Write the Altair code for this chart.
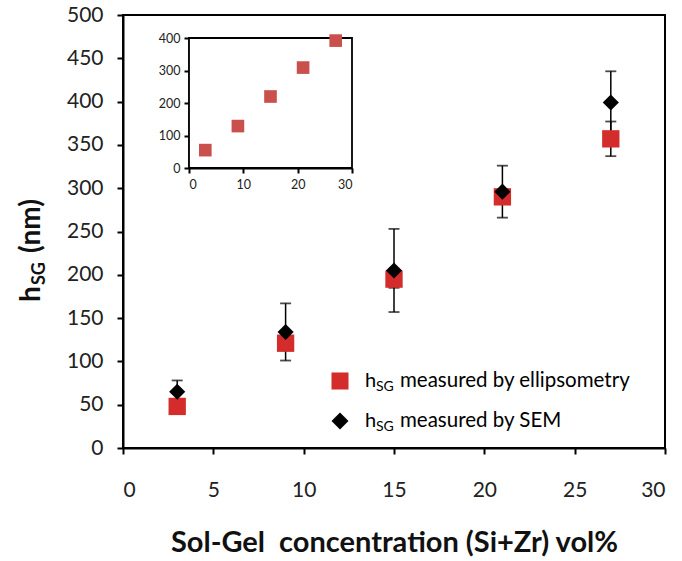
import altair as alt
import pandas as pd

# ---- data ----
conc = [3, 9, 15, 21, 27]
h_ellips = [48, 121, 195, 290, 357]
err_ellips = [5, 6, 10, 6, 20]
h_sem = [65, 134, 205, 296, 399]
err_sem = [13, 33, 48, 30, 36]
inset_conc = [3, 9, 15, 21, 27]
inset_h = [55, 129, 220, 309, 392]
legend_labels = ["measured by ellipsometry", "measured by SEM"]

FONT = "Lato"
W, H = 542, 433
RED = "#d42b2b"

main = pd.DataFrame({"x": conc, "ell": h_ellips, "eerr": err_ellips,
                     "semv": h_sem, "serr": err_sem})
main["ell_lo"] = main["ell"] - main["eerr"]
main["ell_hi"] = main["ell"] + main["eerr"]
main["sem_lo"] = main["semv"] - main["serr"]
main["sem_hi"] = main["semv"] + main["serr"]

xs = alt.Scale(domain=[0, 30], nice=False)
ys = alt.Scale(domain=[0, 500], nice=False)

X = alt.X("x:Q", scale=xs, title="Sol-Gel\u00a0 concentration (Si+Zr) vol%",
          axis=alt.Axis(values=[0, 5, 10, 15, 20, 25, 30], grid=False,
                        domainColor="black", domainWidth=2, tickColor="black",
                        tickWidth=2, tickSize=6, labelFontSize=21, labelPadding=25,
                        labelColor="#222", labelFont=FONT, titleFont=FONT,
                        titleFontSize=29, titleFontWeight="bold", titleColor="#111",
                        titlePadding=28))
Y = alt.Y("sem_lo:Q", scale=ys,
          axis=alt.Axis(values=list(range(0, 501, 50)), grid=False, domainColor="black",
                        domainWidth=2, tickColor="black", tickWidth=2, tickSize=6,
                        labelFontSize=21, labelPadding=14, labelColor="#222",
                        labelFont=FONT, title=None))

ebar_sem = alt.Chart(main).mark_rule(color="black", strokeWidth=1.5).encode(
    x=X, y=Y, y2="sem_hi:Q")
cap_sem_lo = alt.Chart(main).mark_tick(color="black", orient="horizontal", size=11, thickness=1.8).encode(
    x="x:Q", y="sem_lo:Q")
cap_sem_hi = alt.Chart(main).mark_tick(color="black", orient="horizontal", size=11, thickness=1.8).encode(
    x="x:Q", y="sem_hi:Q")
ebar_ell = alt.Chart(main).mark_rule(color="black", strokeWidth=1.5).encode(
    x="x:Q", y="ell_lo:Q", y2="ell_hi:Q")
cap_ell_lo = alt.Chart(main).mark_tick(color="black", orient="horizontal", size=11, thickness=1.8).encode(
    x="x:Q", y="ell_lo:Q")
cap_ell_hi = alt.Chart(main).mark_tick(color="black", orient="horizontal", size=11, thickness=1.8).encode(
    x="x:Q", y="ell_hi:Q")

squares = alt.Chart(main).mark_point(shape="square", filled=True, opacity=1,
                                     color=RED, size=300).encode(x="x:Q", y="ell:Q")
diamonds = alt.Chart(main).mark_point(shape="diamond", filled=True, opacity=1,
                                      color="black", size=260).encode(x="x:Q", y="semv:Q")

# ---- legend (manual, to allow subscripts) ----
one = pd.DataFrame({"a": [0]})
def legend_row(ypos, shape, color, rest):
    sym = alt.Chart(one).mark_point(filled=True, opacity=1, size=290, shape=shape,
                                    color=color).encode(x=alt.value(217), y=alt.value(ypos))
    h = alt.Chart(one).mark_text(align="left", baseline="middle", font=FONT, fontSize=20,
                                 color="black").encode(x=alt.value(242), y=alt.value(ypos),
                                                       text=alt.value("h"))
    sg = alt.Chart(one).mark_text(align="left", baseline="middle", font=FONT, fontSize=14,
                                  color="black").encode(x=alt.value(253), y=alt.value(ypos + 6),
                                                        text=alt.value("SG"))
    r = alt.Chart(one).mark_text(align="left", baseline="middle", font=FONT, fontSize=20.5,
                                 color="black").encode(x=alt.value(277), y=alt.value(ypos),
                                                       text=alt.value(rest))
    return [sym, h, sg, r]

legend = legend_row(366, "square", RED, legend_labels[0]) + \
         legend_row(406, "diamond", "black", legend_labels[1])

# ---- y axis title with subscript ----
ytitle = [
    alt.Chart(one).mark_text(angle=270, align="left", baseline="middle", font=FONT,
                             fontSize=28, fontWeight="bold", color="#111").encode(
        x=alt.value(-91), y=alt.value(287), text=alt.value("h")),
    alt.Chart(one).mark_text(angle=270, align="left", baseline="middle", font=FONT,
                             fontSize=18, fontWeight="bold", color="#111").encode(
        x=alt.value(-83), y=alt.value(270), text=alt.value("SG")),
    alt.Chart(one).mark_text(angle=270, align="left", baseline="middle", font=FONT,
                             fontSize=28, fontWeight="bold", color="#111").encode(
        x=alt.value(-91), y=alt.value(238), text=alt.value("(nm)")),
]

# ---- inset ----
ins = pd.DataFrame({"ix": inset_conc, "iy": inset_h})
ixs = alt.Scale(domain=[0, 30], range=[66, 229], nice=False)
iys = alt.Scale(domain=[0, 400], range=[153, 23], nice=False)
frame = pd.DataFrame({"ix": [0], "ix2": [30], "iy": [0], "iy2": [400]})
inset_frame = alt.Chart(frame).mark_rect(fill="white", stroke="black", strokeWidth=1.8).encode(
    x=alt.X("ix:Q", scale=ixs,
            axis=alt.Axis(orient="bottom", offset=-280, values=[0, 10, 20, 30],
                          grid=False, domainColor="black", domainWidth=2,
                          tickColor="black", tickWidth=2, tickSize=5,
                          labelFontSize=12.5, labelPadding=5, labelFont=FONT,
                          labelColor="#222", title=None)),
    x2="ix2:Q",
    y=alt.Y("iy:Q", scale=iys,
            axis=alt.Axis(orient="left", offset=-66, values=[0, 100, 200, 300, 400],
                          grid=False, domainColor="black", domainWidth=2,
                          tickColor="black", tickWidth=2, tickSize=5,
                          labelFontSize=12.5, labelPadding=4, labelFont=FONT,
                          labelColor="#222", title=None)),
    y2="iy2:Q")
inset_pts = alt.Chart(ins).mark_point(shape="square", filled=True, opacity=1,
                                      color="#c9504d", size=160).encode(
    x=alt.X("ix:Q", scale=ixs), y=alt.Y("iy:Q", scale=iys))

main_layer = alt.layer(ebar_sem, cap_sem_lo, cap_sem_hi, ebar_ell, cap_ell_lo, cap_ell_hi,
                       squares, diamonds, *legend, *ytitle)
inset_layer = alt.layer(inset_frame, inset_pts)

chart = alt.layer(main_layer, inset_layer).resolve_scale(
    x="independent", y="independent").resolve_axis(x="independent", y="independent").properties(
    width=W, height=H,
    autosize=alt.AutoSizeParams(type="none"),
    padding={"left": 123, "top": 15, "right": 17, "bottom": 113},
    background="white",
).configure_view(stroke="black", strokeWidth=2)

chart.save("out.html", embed_options={"renderer": "svg", "actions": False})
